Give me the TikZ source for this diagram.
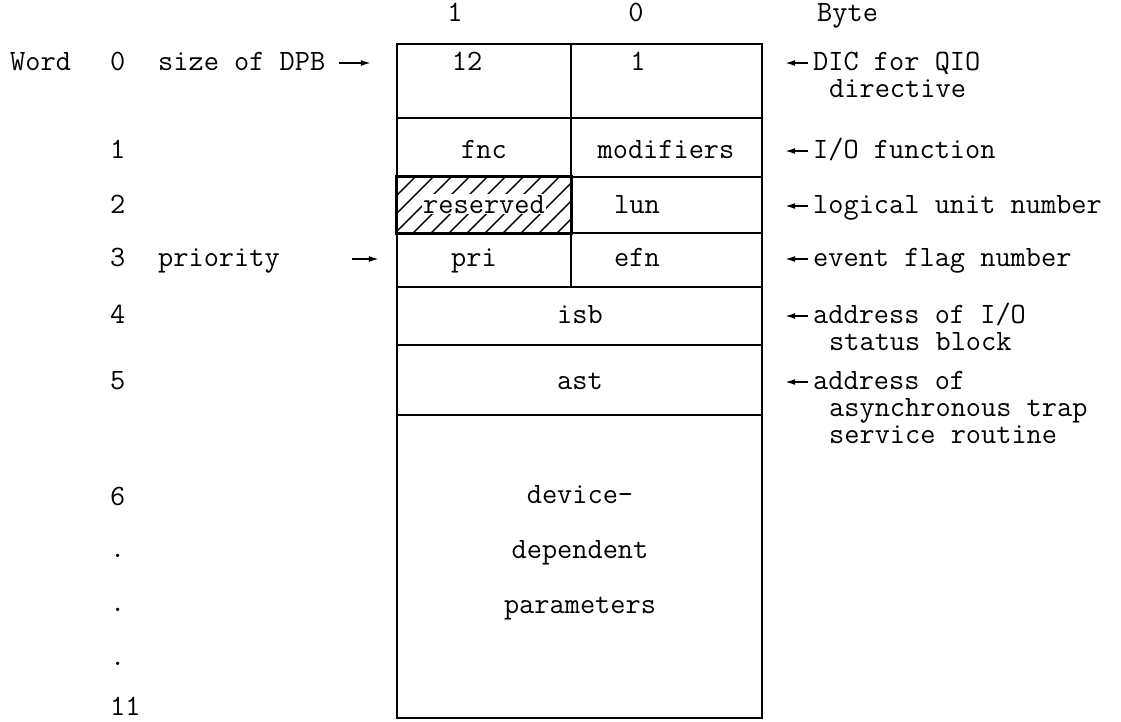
\documentclass[tikz,border=0pt]{standalone}
\usepackage{fontspec}
\usetikzlibrary{arrows.meta}
\begin{document}
\begin{tikzpicture}[x=1pt,y=-1pt,
  txt/.style={font=\ttfamily\fontsize{29.5}{32}\selectfont, inner sep=0pt, anchor=base},
  lft/.style={txt, anchor=base west},
  cell/.style={draw, line width=2.4pt, inner sep=0pt, minimum width=#1},
  arr/.style={line width=1.5pt, -{Latex[length=10pt,width=6pt]}},
  hatchline/.style={line width=1.4pt}
]
\useasboundingbox (0,0) rectangle (1121,721);
% cells
\node[cell=174pt, minimum height=74pt] (c0l) at (484,81) {};
\node[cell=191pt, minimum height=74pt] (c0r) at (666.5,81) {};
\node[cell=174pt, minimum height=59pt] (c1l) at (484,147.5) {};
\node[cell=191pt, minimum height=59pt] (c1r) at (666.5,147.5) {};
\node[cell=174pt, minimum height=56pt] (c2l) at (484,205) {};
\node[cell=191pt, minimum height=56pt] (c2r) at (666.5,205) {};
\node[cell=174pt, minimum height=54pt] (c3l) at (484,260) {};
\node[cell=191pt, minimum height=54pt] (c3r) at (666.5,260) {};
\node[cell=365pt, minimum height=58pt] (c4) at (579.5,316) {};
\node[cell=365pt, minimum height=70pt] (c5) at (579.5,380) {};
\node[cell=365pt, minimum height=303pt] (c6) at (579.5,566.5) {};
% hatching of reserved cell
\begin{scope}
  \clip (c2l.south west) rectangle (c2l.north east);
  \foreach \i in {0,...,13} {
    \draw[hatchline] (341+18*\i,233) -- ++(56,-56);
  }
\end{scope}
\draw[line width=2.4pt] (c2l.south west) rectangle (c2l.north east);
% header
\node[txt] (hb1) at (455,21) {1};
\node[txt] (hb0) at (636,21) {0};
\node[lft] (hbyte) at (817,21) {Byte};
% cell texts
\node[txt] (t12) at (467,70) {12};
\node[txt] (t1) at (638,70) {1};
\node[txt] (tfnc) at (484,158) {fnc};
\node[txt] (tmod) at (666,158) {modifiers};
\node[txt, fill=white, inner sep=1pt] (tres) at (484,213) {reserved};
\node[txt] (tlun) at (637,213) {lun};
\node[txt] (tpri) at (474,266) {pri};
\node[txt] (tefn) at (637,266) {efn};
\node[txt] (tisb) at (580,323) {isb};
\node[txt] (tast) at (580,389) {ast};
\node[txt] (tdev1) at (580,503) {device-};
\node[txt] (tdev2) at (580,558) {dependent};
\node[txt] (tdev3) at (580,613) {parameters};
% left labels
\node[lft] (word) at (10,70) {Word};
\node[lft] (w0) at (110,70) {0};
\node[lft] (size) at (158,70) {size of DPB};
\node[lft] (w1) at (110,158) {1};
\node[lft] (w2) at (110,213) {2};
\node[lft] (w3) at (110,266) {3};
\node[lft] (prio) at (158,266) {priority};
\node[lft] (w4) at (110,323) {4};
\node[lft] (w5) at (110,389) {5};
\node[lft] (w6) at (110,505) {6};
\node[lft] (d1) at (110,557) {.};
\node[lft] (d2) at (110,611) {.};
\node[lft] (d3) at (110,665) {.};
\node[lft] (w11) at (110,715) {11};
% right labels
\node[lft] (dic) at (813,70) {DIC for QIO};
\node[lft] (dic2) at (829,97) {directive};
\node[lft] (iof) at (813,158) {I/O function};
\node[lft] (lun) at (813,213) {logical unit number};
\node[lft] (efn) at (813,266) {event flag number};
\node[lft] (isb) at (813,323) {address of I/O};
\node[lft] (isb2) at (829,350) {status block};
\node[lft] (ast) at (813,389) {address of};
\node[lft] (ast2) at (829,416) {asynchronous trap};
\node[lft] (ast3) at (829,443) {service routine};
% arrows
\coordinate (sizeA) at ([xshift=13pt,yshift=7pt]size.base east);
\draw[arr, shorten >=25pt] (sizeA) -- (sizeA -| c0l.west);
\coordinate (prioA) at (352,259);
\draw[arr, shorten >=17pt] (prioA) -- (prioA -| c3l.west);
\coordinate (dicA) at ([xshift=-5pt,yshift=7pt]dic.base west);
\draw[arr, shorten >=22pt] (dicA) -- (dicA -| c0r.east);
\coordinate (iofA) at ([xshift=-5pt,yshift=7pt]iof.base west);
\draw[arr, shorten >=22pt] (iofA) -- (iofA -| c1r.east);
\coordinate (lunA) at ([xshift=-5pt,yshift=7pt]lun.base west);
\draw[arr, shorten >=22pt] (lunA) -- (lunA -| c2r.east);
\coordinate (efnA) at ([xshift=-5pt,yshift=7pt]efn.base west);
\draw[arr, shorten >=22pt] (efnA) -- (efnA -| c3r.east);
\coordinate (isbA) at ([xshift=-5pt,yshift=7pt]isb.base west);
\draw[arr, shorten >=22pt] (isbA) -- (isbA -| c4.east);
\coordinate (astA) at ([xshift=-5pt,yshift=7pt]ast.base west);
\draw[arr, shorten >=22pt] (astA) -- (astA -| c5.east);
\end{tikzpicture}
\end{document}
